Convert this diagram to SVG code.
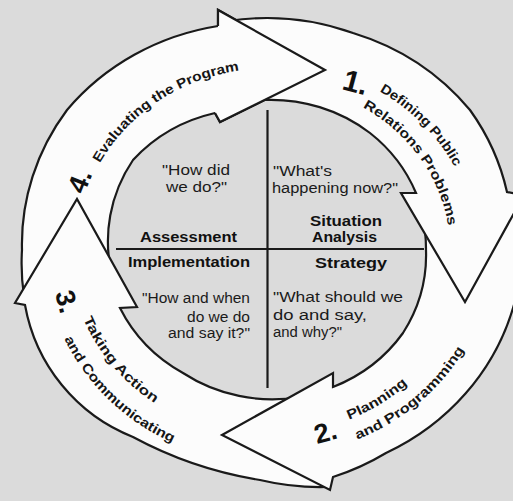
<svg xmlns="http://www.w3.org/2000/svg" width="513" height="501" viewBox="0 0 513 501">
<style>
.bg{fill:#dbdbdb}
.arrow{fill:#fcfcfc;stroke:#1a1a1a;stroke-width:2.2;stroke-linejoin:miter}
.headfill{fill:#fcfcfc;stroke:none}
.headline{fill:none;stroke:#1a1a1a;stroke-width:2.2;stroke-linejoin:miter}
.div{stroke:#1a1a1a;stroke-width:2.2;fill:none}
.lbl{font-family:"Liberation Sans",Arial,sans-serif;font-weight:bold;font-size:13.5px;fill:#151515}
.num{font-family:"Liberation Sans",Arial,sans-serif;font-weight:bold;font-size:27px;fill:#111}
.q{font-family:"Liberation Sans",Arial,sans-serif;font-size:14px;fill:#1a1a1a}
.b{font-family:"Liberation Sans",Arial,sans-serif;font-weight:bold;font-size:14px;fill:#111}
</style>
<defs>
<path id="pEval" d="M 99.9 163.1 A 191.5 181.5 0 0 1 284.7 69.2"/>
<path id="pDef" d="M 379.4 91.3 A 208 188 0 0 1 468.9 201.3"/>
<path id="pRel" d="M 362.8 107.4 A 182 167 0 0 1 450 250"/>
<path id="pPlan" d="M 348.9 419.7 A 203 185 0 0 0 443.8 342.5"/>
<path id="pProg" d="M 357.2 439.5 A 224.5 206.5 0 0 0 484.8 303.4"/>
<path id="pTake" d="M 83.4 318.7 A 198.5 186.5 0 0 0 233.5 433.7"/>
<path id="pComm" d="M 64.3 338.7 A 224 213 0 0 0 268 463"/>
</defs>
<rect class="bg" x="0" y="0" width="513" height="501"/>

<g id="dividers">
<line class="div" x1="267.5" y1="110" x2="267.5" y2="388"/>
<line class="div" x1="116" y1="249" x2="424" y2="249"/>
</g>

<g id="quad-assessment">
<text class="q" x="162" y="175" textLength="68" lengthAdjust="spacingAndGlyphs">"How did</text>
<text class="q" x="166" y="192" textLength="61" lengthAdjust="spacingAndGlyphs">we do?"</text>
<text class="b" x="140" y="242" textLength="97" lengthAdjust="spacingAndGlyphs">Assessment</text>
</g>
<g id="quad-situation">
<text class="q" x="273" y="176" textLength="59" lengthAdjust="spacingAndGlyphs">"What's</text>
<text class="q" x="272" y="193" textLength="126" lengthAdjust="spacingAndGlyphs">happening now?"</text>
<text class="b" x="310" y="226" textLength="72" lengthAdjust="spacingAndGlyphs">Situation</text>
<text class="b" x="312" y="242" textLength="65" lengthAdjust="spacingAndGlyphs">Analysis</text>
</g>
<g id="quad-implementation">
<text class="b" x="128" y="267" textLength="122" lengthAdjust="spacingAndGlyphs">Implementation</text>
<text class="q" x="142" y="303" textLength="108" lengthAdjust="spacingAndGlyphs">"How and when</text>
<text class="q" x="187" y="322" textLength="63" lengthAdjust="spacingAndGlyphs">do we do</text>
<text class="q" x="168" y="338" textLength="82" lengthAdjust="spacingAndGlyphs">and say it?"</text>
</g>
<g id="quad-strategy">
<text class="b" x="315" y="268" textLength="72" lengthAdjust="spacingAndGlyphs">Strategy</text>
<text class="q" x="273" y="302" textLength="130" lengthAdjust="spacingAndGlyphs">"What should we</text>
<text class="q" x="273" y="320" textLength="94" lengthAdjust="spacingAndGlyphs">do and say,</text>
<text class="q" x="273" y="337" textLength="69" lengthAdjust="spacingAndGlyphs">and why?"</text>
</g>

<g id="step4">
<path class="arrow" d="M 24 296 A 245 232 0 0 1 22 250 A 245 232 0 0 1 67 110 A 245 232 0 0 1 218 26 L 218 10 L 325 70 L 220 122 L 215 113 A 158 150 0 0 0 133 160 A 158 150 0 0 0 112 275 Z"/>
</g>
<g id="step3">
<path class="arrow" d="M 326 487 A 245 232 0 0 1 260 480 A 400 400 0 0 1 133 437 A 175 175 0 0 1 25 305 L 15 303 L 77 199 L 137 307 L 120 308 A 158 150 0 0 0 183 373 A 158 150 0 0 0 300 397 Z"/>
<text class="num" transform="translate(55,293) rotate(76)">3.</text>
<text class="lbl"><textPath href="#pTake" textLength="112" lengthAdjust="spacingAndGlyphs">Taking Action</textPath></text>
<text class="lbl"><textPath href="#pComm" textLength="153" lengthAdjust="spacingAndGlyphs">and Communicating</textPath></text>
</g>
<g id="step2">
<path class="arrow" d="M 520 200 A 245 232 0 0 1 513 308 A 245 232 0 0 1 386 453 A 245 232 0 0 1 333 477 L 330 490 L 222 435 L 333 373 L 333 387 A 158 150 0 0 0 403 333 A 158 150 0 0 0 426 250 A 158 150 0 0 0 422 215 Z"/>
<text class="num" transform="translate(317,444) rotate(-15)">2.</text>
<text class="lbl"><textPath href="#pPlan" textLength="69" lengthAdjust="spacingAndGlyphs">Planning</textPath></text>
<text class="lbl"><textPath href="#pProg" textLength="142" lengthAdjust="spacingAndGlyphs">and Programming</textPath></text>
</g>
<g id="step1">
<path class="arrow" d="M 228 21 A 245 232 0 0 1 353 33 A 245 232 0 0 1 470 110 A 245 232 0 0 1 507 192 L 524 195 L 465 302 L 401 193 L 416 193 A 158 150 0 0 0 370 133 A 158 150 0 0 0 263 100 A 158 150 0 0 0 240 103 Z"/>
<text class="num" style="font-size:30px" transform="translate(341,89) rotate(15)">1.</text>
<text class="lbl"><textPath href="#pDef" textLength="108" lengthAdjust="spacingAndGlyphs">Defining Public</textPath></text>
<text class="lbl"><textPath href="#pRel" textLength="151" lengthAdjust="spacingAndGlyphs">Relations Problems</textPath></text>
</g>
<g id="step4-head">
<path class="headfill" d="M 215 113 L 218 26 L 218 10 L 325 70 L 220 122 Z"/>
<path class="headline" d="M 218 26 L 218 10 L 325 70 L 220 122 L 215 113"/>
<text class="num" transform="translate(84,195) rotate(-68)">4.</text>
<text class="lbl"><textPath href="#pEval" textLength="173" lengthAdjust="spacingAndGlyphs">Evaluating the Program</textPath></text>
</g>
</svg>
